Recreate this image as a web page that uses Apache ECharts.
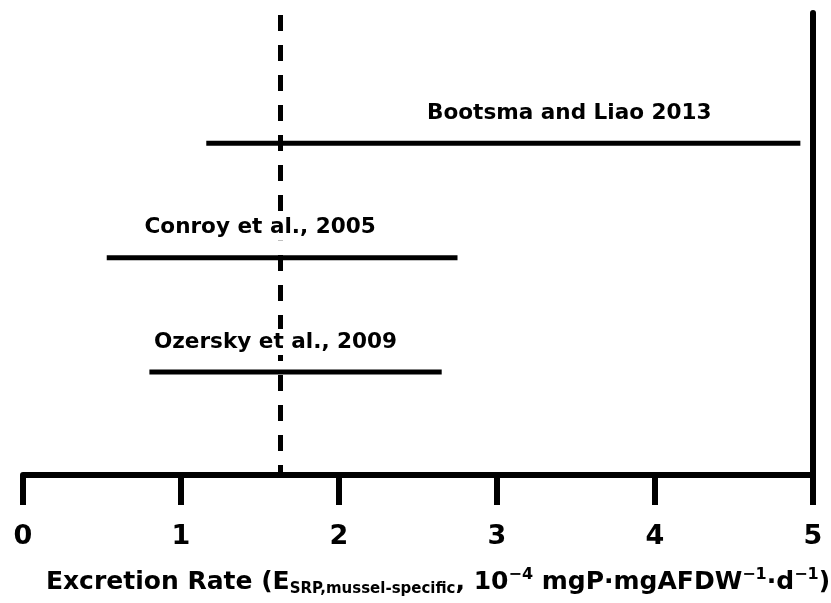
<!DOCTYPE html>
<html>
<head>
<meta charset="utf-8">
<script src="https://cdn.jsdelivr.net/npm/echarts@6/dist/echarts.min.js"></script>
<style>
  html, body { margin: 0; padding: 0; background: #fff; }
  #chart { width: 831px; height: 603px; }
</style>
</head>
<body>
<div id="chart"></div>
<script>
// Reported ranges of mussel-specific SRP excretion (10^-4 mgP·mgAFDW^-1·d^-1)
const studies = ['Ozersky et al., 2009', 'Conroy et al., 2005', 'Bootsma and Liao 2013'];
const rangeLow = [0.80, 0.53, 1.16];
const rangeHigh = [2.65, 2.75, 4.92];
const referenceRate = 1.63;          // dashed reference value
const xTicks = [0, 1, 2, 3, 4, 5];

const FONT = '"DejaVu Sans", sans-serif';

// horizontal nudge of each study label from its bar's midpoint (px)
const labelNudge = [-20, -22, 66];

const rows = studies.map((name, i) => [rangeLow[i], rangeHigh[i], i, name]);

const chart = echarts.init(document.getElementById('chart'), null, { renderer: 'canvas' });

chart.setOption({
  backgroundColor: '#ffffff',
  animation: false,
  grid: { left: 23, right: 18, top: 13, bottom: 128, containLabel: false, outerBoundsMode: 'none' },
  xAxis: {
    type: 'value',
    min: xTicks[0],
    max: xTicks[xTicks.length - 1],
    interval: 1,
    axisLine: { show: true, onZero: false, lineStyle: { color: '#000', width: 6 } },
    axisTick: { show: true, length: 30, lineStyle: { color: '#000', width: 6 } },
    splitLine: { show: false },
    axisLabel: {
      margin: 48,
      color: '#000',
      fontFamily: FONT,
      fontWeight: 'bold',
      fontSize: 27
    },
    name: '{m|Excretion Rate (E}{sub|SRP,mussel-specific}{m|, 10}{sup|\u22124}{m| mgP\u00B7mgAFDW}{sup|\u22121}{m|\u00B7d}{sup|\u22121}{m|)}',
    nameLocation: 'middle',
    nameGap: 92,
    nameTextStyle: {
      color: '#000',
      fontFamily: FONT,
      fontWeight: 'bold',
      padding: [0, 0, 0, 40],
      rich: {
        m: { fontFamily: FONT, fontWeight: 'bold', fontSize: 25, lineHeight: 30, color: '#000' },
        sub: { fontFamily: FONT, fontWeight: 'bold', fontSize: 15, lineHeight: 2, verticalAlign: 'bottom', color: '#000' },
        sup: { fontFamily: FONT, fontWeight: 'bold', fontSize: 16, lineHeight: 12, verticalAlign: 'top', color: '#000' }
      }
    }
  },
  yAxis: {
    type: 'value',
    position: 'right',
    min: -0.9,
    max: 3.14,
    axisLine: { show: true, onZero: false, lineStyle: { color: '#000', width: 6 } },
    axisTick: { show: false },
    axisLabel: { show: false },
    splitLine: { show: false }
  },
  series: [
    {
      // dashed reference rate, kept underneath the study labels
      type: 'line',
      z: 1,
      data: [],
      markLine: {
        z: 1,
        silent: true,
        symbol: ['none', 'none'],
        label: { show: false },
        lineStyle: { color: '#000', width: 5, type: [16, 14], dashOffset: 6 },
        data: [{ xAxis: referenceRate }]
      }
    },
    {
      type: 'custom',
      z: 8,
      encode: { x: [0, 1], y: 2 },
      data: rows,
      renderItem: function (params, api) {
        const i = params.dataIndex;
        const p0 = api.coord([api.value(0), api.value(2)]);
        const p1 = api.coord([api.value(1), api.value(2)]);
        const mid = (p0[0] + p1[0]) / 2;
        return {
          type: 'group',
          children: [
            {
              type: 'line',
              shape: { x1: p0[0], y1: p0[1], x2: p1[0], y2: p1[1] },
              style: { stroke: '#000', lineWidth: 5, lineCap: 'butt' }
            },
            {
              type: 'text',
              x: mid + labelNudge[i],
              y: p0[1] - 30,
              scaleX: 0.98,
              style: {
                text: studies[i],
                fill: '#000',
                font: 'bold 22px ' + FONT,
                align: 'center',
                verticalAlign: 'middle',
                backgroundColor: '#fff',
                padding: [2, 3]
              }
            }
          ]
        };
      }
    }
  ]
});
</script>
</body>
</html>
